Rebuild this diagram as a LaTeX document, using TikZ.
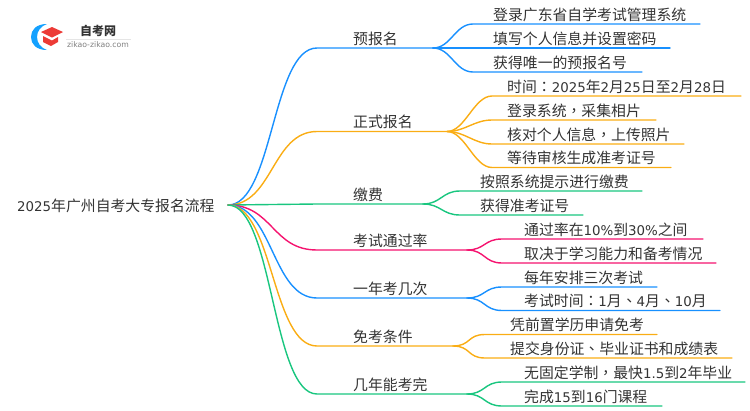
\documentclass[tikz,border=0pt]{standalone}
\usepackage{fontspec}
\setmainfont{Noto Sans CJK SC}
\newfontfamily\dvfont[Scale=0.9]{DejaVu Sans}
\newfontfamily\tcfont{Noto Sans CJK TC}
\newcommand{\dv}[1]{{\dvfont #1}}
\newcommand{\pc}[1]{{\tcfont #1}}
\definecolor{cblue}{HTML}{1890FF}
\definecolor{corange}{HTML}{FAAD14}
\definecolor{cgreen}{HTML}{19C67F}
\definecolor{cpink}{HTML}{F5136F}
\definecolor{cred}{HTML}{EC3B36}
\definecolor{ctext}{HTML}{333333}
\tikzset{
	wire/.style={line width=1.4pt,line cap=round},
	lab/.style={anchor=west,inner sep=0pt,text=ctext,font=\fontsize{14.85}{16}\selectfont,text height=12pt,text depth=2pt},
}
\begin{document}
\begin{tikzpicture}[x=1pt,y=-1pt]
	\useasboundingbox (0,0) rectangle (750,410);
	% logo
	\fill[cblue!85!cyan] (47,24) .. controls (36,24) and (31,30) .. (31,37) .. controls (31,44) and (36,50) .. (47,50) .. controls (41,48) and (37,43) .. (37,37) .. controls (37,31) and (41,26) .. (47,24) -- cycle;
	\fill[cred] (52,27) -- (63,32) -- (52,37.5) -- (41,32) -- cycle;
	\fill[cred] (43,36) -- (52,40.5) -- (58,37) -- (58,42) -- (51,46) -- (43,42) -- cycle;
	\node[inner sep=0pt,font=\fontsize{12}{13}\selectfont\bfseries,text=ctext] (logotxt) at (98,31) {自考网};
	\node[inner sep=0pt,font=\fontsize{8.6}{9}\selectfont,text=gray] (logourl) at (98,45) {\dv{zikao-zikao.com}};
	\draw[black!10,line width=.6pt] (66,39) -- (131,39);
	% root
	\node[lab] (root) at (17,206) {\dv{2025}年广州自考大专报名流程};
	\coordinate (rootc) at (228,205);
	% main branches
	\foreach \name/\col/\y/\xend/\txt in {
		yubao/cblue/48/433/预报名,
		zhengshi/corange/131.5/447/正式报名,
		jiaofei/cgreen/204/423/缴费,
		tongguo/cpink/250/467/考试通过率,
		jici/cblue/298/467/一年考几次,
		miankao/corange/346/453/免考条件,
		jinian/cgreen/394/467/几年能考完}{
		\coordinate (\name s) at (317,\y);
		\coordinate (\name e) at (\xend,\y);
		\node[lab] (\name) at (353,\y-9) {\txt};
		\draw[wire,\col] (rootc) .. controls +(45,0) and +(-45,0) .. (\name s) -- (\name e);
	}
	% leaves
	\foreach \from/\col/\sx/\y/\tx/\xend/\txt in {
		yubaoe/cblue/473/24/493/700/登录广东省自学考试管理系统,
		yubaoe/cblue/473/48/493/670/填写个人信息并设置密码,
		yubaoe/cblue/473/72/493/642/获得唯一的预报名号,
		zhengshie/corange/492/96/507/741/{时间\pc{：}\dv{2025}年\dv{2}月\dv{25}日至\dv{2}月\dv{28}日},
		zhengshie/corange/492/120/507/656/{登录系统\pc{，}采集相片},
		zhengshie/corange/492/144/507/684/{核对个人信息\pc{，}上传照片},
		zhengshie/corange/492/167.5/507/671/等待审核生成准考证号,
		jiaofeie/cgreen/460/191/480/642/按照系统提示进行缴费,
		jiaofeie/cgreen/460/215/480/583/获得准考证号,
		tongguoe/cpink/502/239/524/703/{通过率在\dv{10\%}到\dv{30\%}之间},
		tongguoe/cpink/502/263/524/716/取决于学习能力和备考情况,
		jicie/cblue/502/287/524/657/每年安排三次考试,
		jicie/cblue/502/310.5/524/720/{考试时间\pc{：}\dv{1}月\pc{、}\dv{4}月\pc{、}\dv{10}月},
		miankaoe/corange/485/334.5/510/657/凭前置学历申请免考,
		miankaoe/corange/485/358/510/732/{提交身份证\pc{、}毕业证书和成绩表},
		jiniane/cgreen/502/382/524/745/{无固定学制\pc{，}最快\dv{1.5}到\dv{2}年毕业},
		jiniane/cgreen/502/406/524/662/{完成\dv{15}到\dv{16}门课程}}{
		\node[lab] at (\tx,\y-9) {\txt};
		\draw[wire,\col] (\from) .. controls +(18,0) and +(-18,0) .. (\sx,\y) -- (\xend,\y);
	}
\end{tikzpicture}
\end{document}
